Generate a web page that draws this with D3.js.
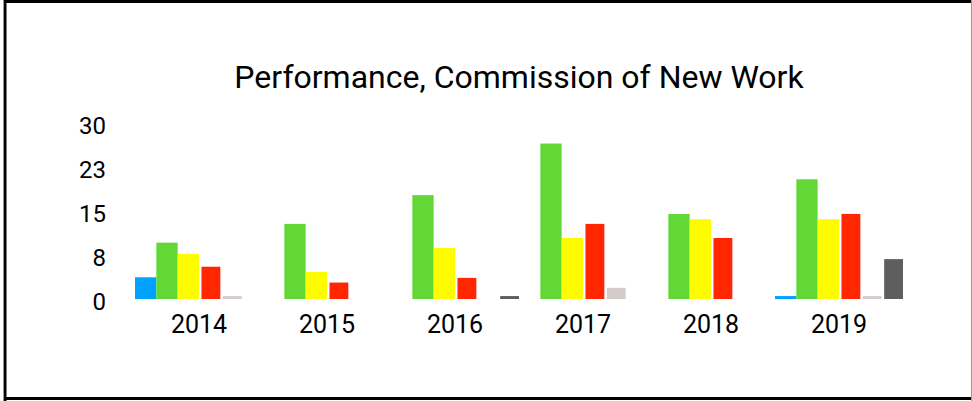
<!DOCTYPE html>
<html>
<head>
<meta charset="utf-8">
<script src="https://cdn.jsdelivr.net/npm/d3@7"></script>
<style>
  html, body { margin: 0; padding: 0; background: #fff; }
  svg { display: block; font-family: Roboto, "Liberation Sans", sans-serif; }
</style>
</head>
<body>
<script>
// values
var years = ["2014", "2015", "2016", "2017", "2018", "2019"];
var seriesNames = ["Series A", "Series B", "Series C", "Series D", "Series E", "Series F"];
var seriesColors = ["#00A2FF", "#61D836", "#FFFB00", "#FF2600", "#D6CBCB", "#5E5E5E"];

var seriesA = [3.7, 0, 0, 0, 0, 0.5];
var seriesB = [9.6, 12.8, 17.7, 26.5, 14.5, 20.4];
var seriesC = [7.7, 4.6, 8.7, 10.4, 13.6, 13.6];
var seriesD = [5.5, 2.8, 3.6, 12.8, 10.4, 14.5];
var seriesE = [0.5, 0, 0, 1.9, 0, 0.5];
var seriesF = [0, 0, 0.5, 0, 0, 6.8];

var yTicks = [0, 7.5, 15, 22.5, 30];
var title = "Performance, Commission of New Work";

var width = 972, height = 401;
var plot = { left: 135, right: 903, top: 123, bottom: 299 };

var allSeries = [seriesA, seriesB, seriesC, seriesD, seriesE, seriesF];
var rows = years.map(function(y, i) {
    return { year: y, values: allSeries.map(function(s, j) {
        return { key: seriesNames[j], value: s[i], idx: j }; }) }; });

var svg = d3.select("body").append("svg")
    .attr("width", width)
    .attr("height", height);

// frame
svg.append("rect").attr("x", 0).attr("y", 0).attr("width", width).attr("height", height).attr("fill", "#fff");
svg.append("line").attr("x1", 3).attr("x2", 972).attr("y1", 1.5).attr("y2", 1.5).attr("stroke", "#000").attr("stroke-width", 3);
svg.append("line").attr("x1", 5).attr("x2", 5).attr("y1", 0).attr("y2", 401).attr("stroke", "#000").attr("stroke-width", 3);
svg.append("line").attr("x1", 3).attr("x2", 972).attr("y1", 398.5).attr("y2", 398.5).attr("stroke", "#000").attr("stroke-width", 3);
svg.append("line").attr("x1", 3.5).attr("x2", 3.5).attr("y1", 0).attr("y2", 401).attr("stroke", "#999").attr("stroke-width", 1);
svg.append("line").attr("x1", 971.5).attr("x2", 971.5).attr("y1", 0).attr("y2", 401).attr("stroke", "#999").attr("stroke-width", 1);

var x0 = d3.scaleBand()
    .domain(years)
    .range([plot.left, plot.right])
    .padding(0);

var x1 = d3.scaleBand()
    .domain(seriesNames)
    .range([0, x0.bandwidth()])
    .padding(0);

var y = d3.scaleLinear()
    .domain([0, 30])
    .range([plot.bottom, plot.top]);

var color = d3.scaleOrdinal()
    .domain(seriesNames)
    .range(seriesColors);

// title
svg.append("text")
    .attr("x", (plot.left + plot.right) / 2)
    .attr("y", 88)
    .attr("text-anchor", "middle")
    .attr("font-size", 32)
    .attr("fill", "#000")
    .text(title);

// y axis (labels only)
var yAxis = svg.append("g")
    .attr("transform", "translate(106,0)")
    .call(d3.axisLeft(y).tickValues(yTicks).tickFormat(d3.format(".0f")).tickSize(0).tickPadding(0));
yAxis.select(".domain").remove();
yAxis.selectAll("text")
    .attr("font-family", "Roboto, sans-serif")
    .attr("font-size", 24)
    .attr("fill", "#000")
    .attr("dy", "0.42em");

// x axis (labels only)
var xAxis = svg.append("g")
    .attr("transform", "translate(0," + plot.bottom + ")")
    .call(d3.axisBottom(x0).tickSize(0).tickPadding(0));
xAxis.select(".domain").remove();
xAxis.selectAll("text")
    .attr("font-family", "Roboto, sans-serif")
    .attr("font-size", 25)
    .attr("fill", "#000")
    .attr("dy", "1.36em");

// bars
var inset = function(d) { return d.idx >= 3 ? 2.5 : 0; };

svg.append("g").selectAll("g")
    .data(rows)
    .enter().append("g")
        .attr("transform", function(d) { return "translate(" + x0(d.year) + ",0)"; })
    .selectAll("rect")
    .data(function(d) { return d.values.filter(function(v) { return v.value > 0; }); })
    .enter().append("rect")
        .attr("x", function(d) { return x1(d.key) + inset(d); })
        .attr("y", function(d) { return y(d.value); })
        .attr("width", function(d) { return x1.bandwidth() - inset(d); })
        .attr("height", function(d) { return y(0) - y(d.value); })
        .attr("fill", function(d) { return color(d.key); });
</script>
</body>
</html>
